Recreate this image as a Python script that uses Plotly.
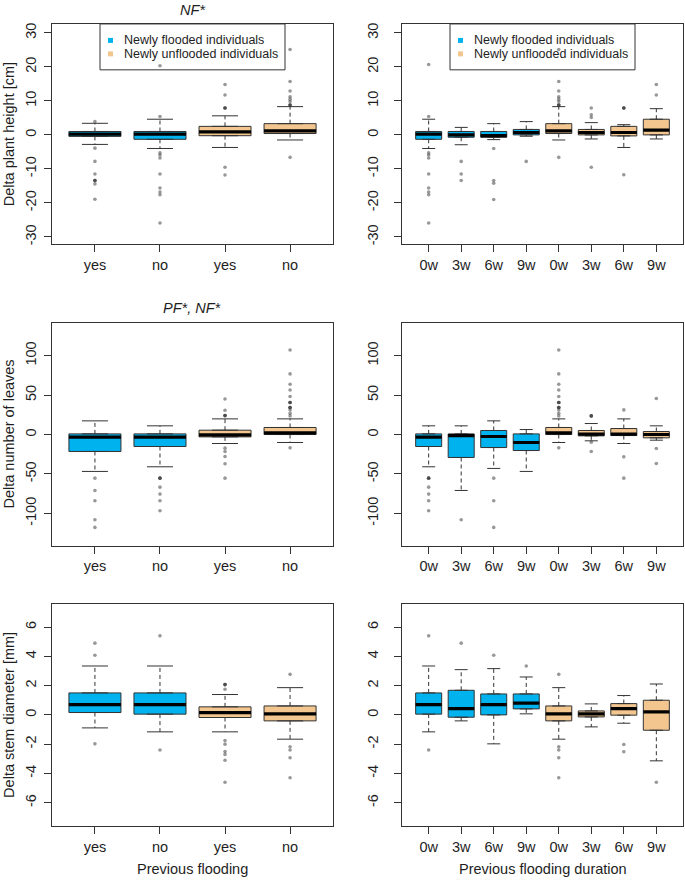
import plotly.graph_objects as go

W, H = 685, 881
BLUE = "#00B2EE"
TAN = "#F3C68F"
LINE = "#333333"
TXT = "#1e1e1e"
FONT = "Liberation Sans, Arial, sans-serif"

# ---------------- categories / tick labels ----------------
left_labels = ["yes", "no", "yes", "no"]
right_labels = ["0w", "3w", "6w", "9w", "0w", "3w", "6w", "9w"]
left_groups = ["flooded", "flooded", "unflooded", "unflooded"]
right_groups = ["flooded"] * 4 + ["unflooded"] * 4

height_ticks = [-30, -20, -10, 0, 10, 20, 30]
leaves_ticks = [-100, -50, 0, 50, 100]
stem_ticks = [-6, -4, -2, 0, 2, 4, 6]

# ---------------- Delta plant height, by previous flooding ----------------
height_pf_q1 = [-0.44, -1.3, -0.24, 0.4]
height_pf_med = [0.2, 0.2, 0.9, 1.2]
height_pf_q3 = [1.0, 1.0, 2.5, 3.3]
height_pf_lo = [-2.8, -4.0, -3.7, -1.5]
height_pf_hi = [3.4, 4.6, 5.6, 8.3]
height_pf_out = [
    [3.9, -3.9, -7.8, -11.5, -13.4, -13.4, -13.4, -14.4, -18.9],
    [5.4, 20.3, -5.3, -5.9, -6.8, -11.5, -15.6, -16.8, -17.6, -25.9],
    [7.9, 7.9, 7.9, 11.7, 14.8, -9.5, -11.8],
    [8.8, 8.8, 8.8, 9.8, 10.5, 11.2, 12.9, 15.7, 25.1, -6.6],
]

# ---------------- Delta plant height, by previous flooding duration ----------------
height_pd_q1 = [-1.3, -0.7, -0.7, 0.0, 0.4, 0.0, -0.3, 0.0]
height_pd_med = [0.2, 0.0, -0.2, 0.7, 1.2, 0.7, 0.7, 1.4]
height_pd_q3 = [1.0, 1.0, 1.0, 1.6, 3.3, 1.6, 2.5, 4.6]
height_pd_lo = [-4.0, -2.9, -1.4, -0.4, -1.5, -1.2, -3.7, -1.2]
height_pd_hi = [4.6, 2.2, 3.3, 3.9, 8.3, 3.6, 3.0, 7.7]
height_pd_out = [
    [5.4, 20.7, -5.3, -5.9, -6.8, -11.5, -15.6, -16.8, -17.6, -25.9],
    [-7.8, -11.5, -13.4],
    [-4.0, -13.4, -14.2, -19.0],
    [-7.8],
    [8.8, 8.8, 8.8, 9.8, 10.5, 11.2, 12.9, 15.7, 25.1, -6.6],
    [5.1, 5.9, 7.9, -9.5],
    [7.9, 7.9, 7.9, -11.7],
    [11.7, 14.8],
]

# ---------------- Delta number of leaves, by previous flooding ----------------
leaves_pf_q1 = [-21.5, -15.2, -3.0, 0.0]
leaves_pf_med = [-3.4, -3.4, -0.5, 2.0]
leaves_pf_q3 = [0.8, 0.8, 5.5, 8.9]
leaves_pf_lo = [-46.8, -40.9, -11.4, -10.1]
leaves_pf_hi = [17.3, 11.0, 19.8, 19.8]
leaves_pf_out = [
    [-55.3, -70.9, -84.0, -108.0, -117.7],
    [-55.3, -55.3, -55.3, -66.7, -75.5, -84.0, -96.6],
    [24.0, 24.0, 24.0, 30.8, 45.1, -17.3, -21.5, -27.8, -37.1, -55.3],
    [23.6, 27.0, 31.2, 34.2, 34.2, 34.2, 40.5, 40.5, 40.5, 48.1, 56.5, 63.7, 76.8, 107.2, -16.9],
]

# ---------------- Delta number of leaves, by previous flooding duration ----------------
leaves_pd_q1 = [-15.2, -29.1, -16.5, -20.3, 0.0, -1.7, -1.3, -4.2]
leaves_pd_med = [-3.4, -1.3, -2.5, -10.1, 2.0, 0.4, 0.4, 0.0]
leaves_pd_q3 = [0.8, 0.8, 5.1, 0.8, 8.9, 5.1, 7.6, 3.8]
leaves_pd_lo = [-40.9, -70.9, -43.0, -46.8, -10.1, -8.0, -11.4, -7.2]
leaves_pd_hi = [11.0, 11.0, 17.3, 6.3, 19.8, 13.9, 19.8, 11.0]
leaves_pd_out = [
    [-55.3, -55.3, -55.3, -66.7, -75.5, -84.0, -96.6],
    [-108.0],
    [-55.3, -84.0, -117.7],
    [],
    [23.6, 27.0, 31.2, 34.2, 34.2, 34.2, 40.5, 40.5, 40.5, 48.1, 56.5, 63.7, 76.8, 107.2, -16.9],
    [23.6, 23.6, 23.6, -9.7, -21.5],
    [31.2, -28.3, -55.3],
    [45.6, -17.7, -36.7],
]

# ---------------- Delta stem diameter, by previous flooding ----------------
stem_pf_q1 = [0.16, 0.05, -0.18, -0.41]
stem_pf_med = [0.7, 0.7, 0.16, 0.07]
stem_pf_q3 = [1.5, 1.5, 0.55, 0.61]
stem_pf_lo = [-0.89, -1.16, -1.16, -1.66]
stem_pf_hi = [3.34, 3.34, 1.39, 1.86]
stem_pf_out = [
    [4.07, 4.9, -1.98],
    [5.4, -2.4],
    [1.75, 2.07, 2.07, 2.07, -1.75, -2.0, -2.5, -2.7, -3.1, -4.6],
    [2.77, -2.18, -2.4, -2.93, -4.3],
]

# ---------------- Delta stem diameter, by previous flooding duration ----------------
stem_pd_q1 = [0.05, -0.16, 0.0, 0.41, -0.41, -0.14, -0.02, -1.05]
stem_pd_med = [0.7, 0.43, 0.7, 0.8, 0.07, 0.07, 0.43, 0.2]
stem_pd_q3 = [1.5, 1.68, 1.43, 1.43, 0.61, 0.27, 0.77, 1.0]
stem_pd_lo = [-1.16, -0.41, -1.98, 0.07, -1.66, -0.82, -0.57, -3.14]
stem_pd_hi = [3.34, 3.09, 3.16, 2.59, 1.86, 0.75, 1.32, 2.11]
stem_pd_out = [
    [5.4, -2.4],
    [4.9],
    [4.07],
    [3.34],
    [2.77, -2.18, -2.4, -2.93, -4.3],
    [],
    [-2.02, -2.52],
    [-4.6],
]

group_colors = {"flooded": BLUE, "unflooded": TAN}


def px_x(p):
    return p / W


def px_y(p):
    return 1 - p / H


panels = [
    dict(q1=height_pf_q1, med=height_pf_med, q3=height_pf_q3, lo=height_pf_lo, hi=height_pf_hi,
         out=height_pf_out, labels=left_labels, groups=left_groups, yrange=[-32.2, 32.6],
         ticks=height_ticks, xpx=(52, 333), ypx=(23, 244), xrange=[0.34, 4.66], standoff=2),
    dict(q1=height_pd_q1, med=height_pd_med, q3=height_pd_q3, lo=height_pd_lo, hi=height_pd_hi,
         out=height_pd_out, labels=right_labels, groups=right_groups, yrange=[-32.2, 32.6],
         ticks=height_ticks, xpx=(402, 683), ypx=(23, 244), xrange=[0.18, 8.82], standoff=10),
    dict(q1=leaves_pf_q1, med=leaves_pf_med, q3=leaves_pf_q3, lo=leaves_pf_lo, hi=leaves_pf_hi,
         out=leaves_pf_out, labels=left_labels, groups=left_groups, yrange=[-141, 141],
         ticks=leaves_ticks, xpx=(52, 333), ypx=(323, 546), xrange=[0.34, 4.66], standoff=2),
    dict(q1=leaves_pd_q1, med=leaves_pd_med, q3=leaves_pd_q3, lo=leaves_pd_lo, hi=leaves_pd_hi,
         out=leaves_pd_out, labels=right_labels, groups=right_groups, yrange=[-141, 141],
         ticks=leaves_ticks, xpx=(402, 683), ypx=(323, 546), xrange=[0.18, 8.82], standoff=10),
    dict(q1=stem_pf_q1, med=stem_pf_med, q3=stem_pf_q3, lo=stem_pf_lo, hi=stem_pf_hi,
         out=stem_pf_out, labels=left_labels, groups=left_groups, yrange=[-7.6, 7.6],
         ticks=stem_ticks, xpx=(52, 333), ypx=(604, 827), xrange=[0.34, 4.66], standoff=2),
    dict(q1=stem_pd_q1, med=stem_pd_med, q3=stem_pd_q3, lo=stem_pd_lo, hi=stem_pd_hi,
         out=stem_pd_out, labels=right_labels, groups=right_groups, yrange=[-7.6, 7.6],
         ticks=stem_ticks, xpx=(402, 683), ypx=(604, 827), xrange=[0.18, 8.82], standoff=10),
]

BOXW = 0.8
CAPW = 0.4

fig = go.Figure()
layout_axes = {}

for i, p in enumerate(panels, start=1):
    xa = "x" if i == 1 else f"x{i}"
    ya = "y" if i == 1 else f"y{i}"
    n = len(p["labels"])
    pos = list(range(1, n + 1))
    common = dict(xaxis=xa, yaxis=ya, showlegend=False, hoverinfo="skip")

    # dashed whiskers
    wx, wy = [], []
    for x, lo, q1, q3, hi in zip(pos, p["lo"], p["q1"], p["q3"], p["hi"]):
        wx += [x, x, None, x, x, None]
        wy += [q3, hi, None, q1, lo, None]
    fig.add_trace(go.Scatter(x=wx, y=wy, mode="lines",
                             line=dict(color=LINE, width=1, dash="4px,3px"), **common))

    # whisker caps
    cx, cy = [], []
    for x, lo, hi in zip(pos, p["lo"], p["hi"]):
        cx += [x - CAPW / 2, x + CAPW / 2, None, x - CAPW / 2, x + CAPW / 2, None]
        cy += [hi, hi, None, lo, lo, None]
    fig.add_trace(go.Scatter(x=cx, y=cy, mode="lines",
                             line=dict(color=LINE, width=1), **common))

    # boxes
    for x, q1, med, q3, g in zip(pos, p["q1"], p["med"], p["q3"], p["groups"]):
        fig.add_trace(go.Box(x=[x], q1=[q1], median=[med], q3=[q3],
                             lowerfence=[q1], upperfence=[q3], width=BOXW,
                             fillcolor=group_colors[g], line=dict(color=LINE, width=1),
                             boxpoints=False, **common))

    # thick medians
    mx, my = [], []
    for x, med in zip(pos, p["med"]):
        mx += [x - BOXW / 2, x + BOXW / 2, None]
        my += [med, med, None]
    fig.add_trace(go.Scatter(x=mx, y=my, mode="lines",
                             line=dict(color="black", width=3.2), **common))

    # outliers
    ox, oy = [], []
    for x, outs in zip(pos, p["out"]):
        ox += [x] * len(outs)
        oy += outs
    fig.add_trace(go.Scatter(x=ox, y=oy, mode="markers",
                             marker=dict(color="rgba(50,50,50,0.5)", size=3.6, line=dict(width=0)),
                             **common))

    axis_common = dict(showline=True, mirror=True, linecolor=LINE, linewidth=1,
                       ticks="outside", ticklen=7, tickcolor=LINE, tickwidth=1,
                       showgrid=False, zeroline=False, fixedrange=True,
                       tickfont=dict(family=FONT, size=14.5, color=TXT))
    layout_axes["xaxis" if i == 1 else f"xaxis{i}"] = dict(
        domain=[px_x(p["xpx"][0]), px_x(p["xpx"][1])], range=p["xrange"],
        tickvals=pos, ticktext=p["labels"], anchor=ya, **axis_common)
    layout_axes["yaxis" if i == 1 else f"yaxis{i}"] = dict(
        domain=[px_y(p["ypx"][1]), px_y(p["ypx"][0])], range=p["yrange"],
        tickvals=p["ticks"], ticktext=[str(t) for t in p["ticks"]], tickangle=-90,
        anchor=xa, ticklabelstandoff=p["standoff"], **axis_common)

annotations = []
shapes = []


def text_ann(txt, x, y, size=14.5, angle=0, xanchor="center", yanchor="middle"):
    annotations.append(dict(text=txt, x=px_x(x), y=px_y(y), xref="paper", yref="paper",
                            showarrow=False, textangle=angle, xanchor=xanchor, yanchor=yanchor,
                            font=dict(family=FONT, size=size, color=TXT)))


# panel titles
text_ann("<i>NF*</i>", 192.5, 9)
text_ann("<i>PF*, NF*</i>", 192.5, 308)
# y-axis titles
text_ann("Delta plant height [cm]", 9, 133.5, angle=-90)
text_ann("Delta number of leaves", 9, 434.5, angle=-90)
text_ann("Delta stem diameter [mm]", 9, 715.5, angle=-90)
# x-axis titles
text_ann("Previous flooding", 192.5, 870)
text_ann("Previous flooding duration", 542.5, 870)

# legends (two top panels)
legend_items = ["Newly flooded individuals", "Newly unflooded individuals"]
legend_colors = [BLUE, TAN]
for off in (0, 350):
    shapes.append(dict(type="rect", xref="paper", yref="paper", layer="below",
                       x0=px_x(100 + off), x1=px_x(285 + off), y0=px_y(69), y1=px_y(23),
                       line=dict(color=LINE, width=1), fillcolor="white"))
    for k, (lab, col) in enumerate(zip(legend_items, legend_colors)):
        yc = 39.5 + k * 13.5
        shapes.append(dict(type="rect", xref="paper", yref="paper", layer="above",
                           x0=px_x(108 + off), x1=px_x(113 + off),
                           y0=px_y(yc + 2.5), y1=px_y(yc - 2.5),
                           line=dict(width=0), fillcolor=col))
        text_ann(lab, 122 + off, yc, size=12.5, xanchor="left")

fig.update_layout(
    width=W, height=H, autosize=False,
    margin=dict(l=0, r=0, t=0, b=0),
    paper_bgcolor="white", plot_bgcolor="rgba(0,0,0,0)",
    boxmode="overlay", showlegend=False,
    annotations=annotations, shapes=shapes,
    **layout_axes,
)

fig.write_html("out.html", config={"displayModeBar": False},
               post_script="document.body.style.margin='0';document.body.style.overflow='hidden';")
